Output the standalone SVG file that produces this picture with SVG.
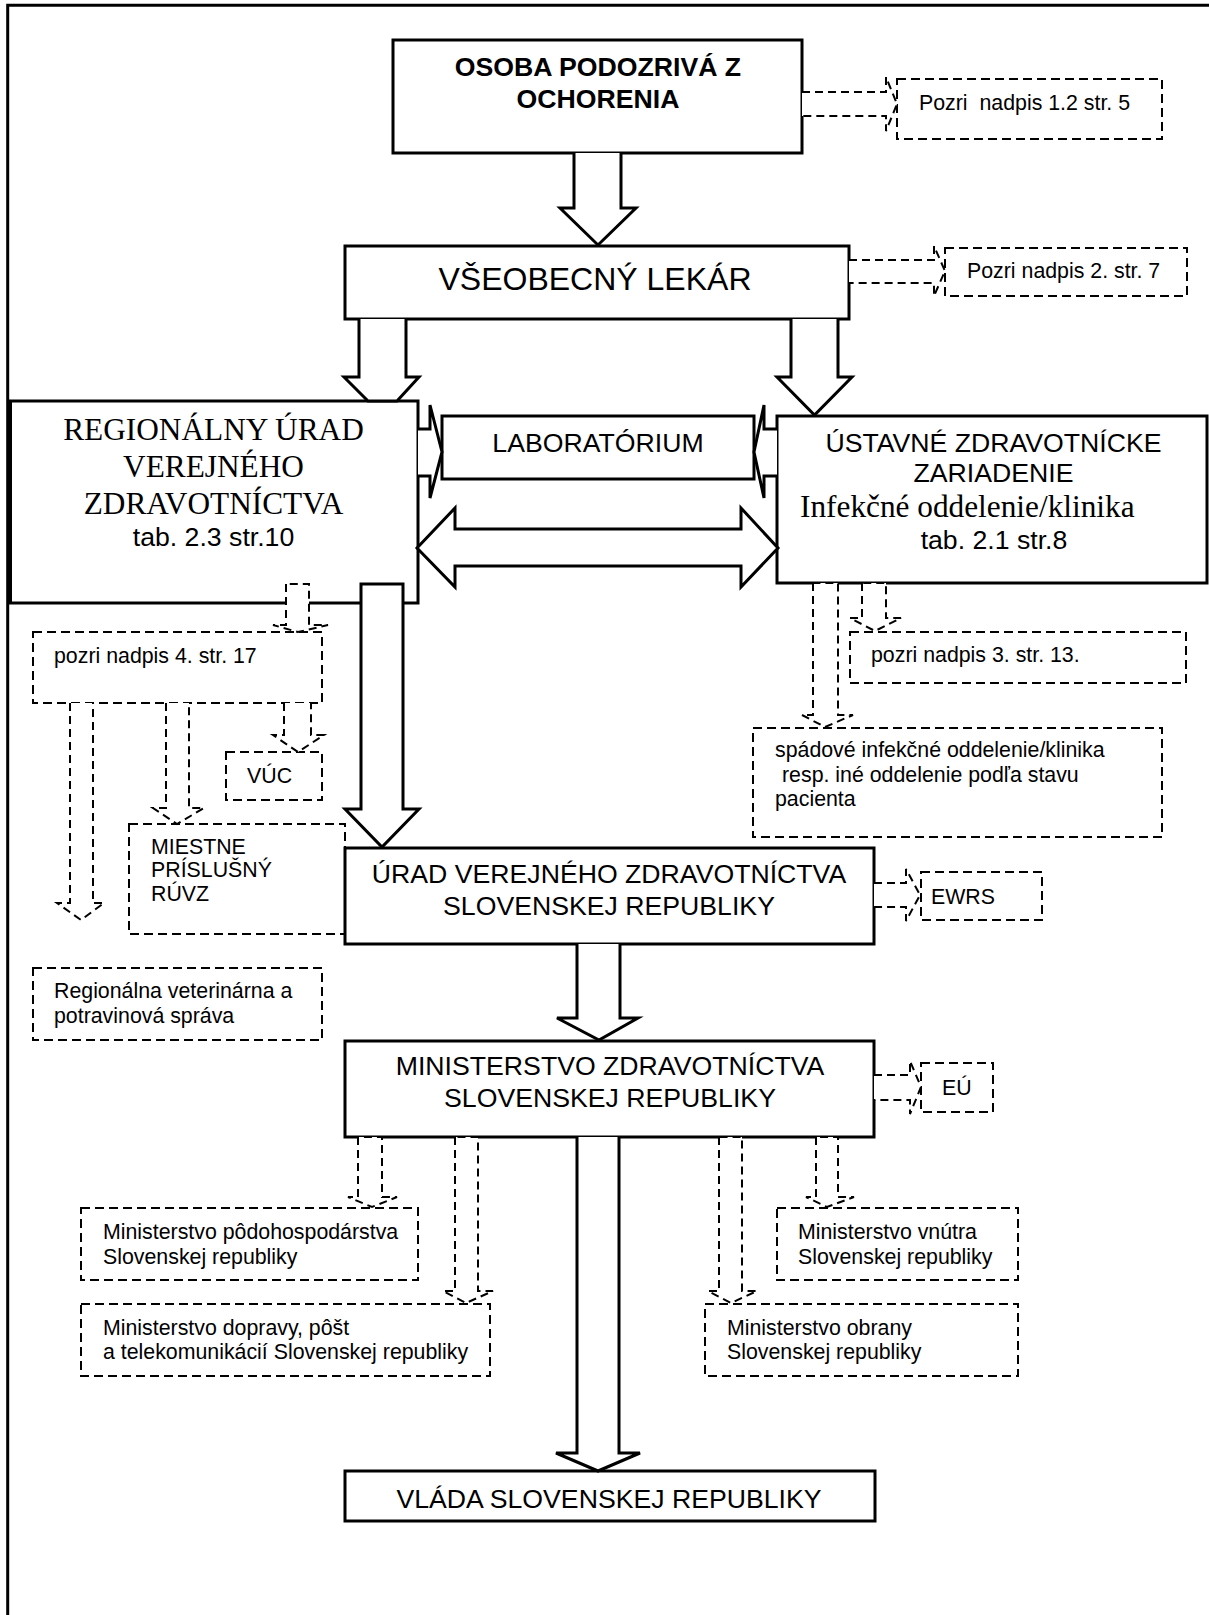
<svg xmlns="http://www.w3.org/2000/svg" width="1209" height="1615" viewBox="0 0 1209 1615">
<style>
.box{fill:#fff;stroke:#000;stroke-width:3}
.dbox{fill:#fff;stroke:#000;stroke-width:2;stroke-dasharray:9 5}
.arr{fill:#fff;stroke:#000;stroke-width:3;stroke-linejoin:miter}
.darr{fill:#fff;stroke:#000;stroke-width:2;stroke-dasharray:8 5}
text{font-family:"Liberation Sans",Arial,sans-serif;fill:#000}
.t{font-size:26.67px}
.tl{font-size:32px}
.tb{font-size:26.67px;font-weight:bold}
.ts{font-family:"Liberation Serif","Times New Roman",serif;font-size:31.3px}
.td{font-size:21.33px}
.m{text-anchor:middle}
</style>
<rect width="1209" height="1615" fill="#fff"/>
<path d="M7.7,1615 V5.3 H1209" fill="none" stroke="#000" stroke-width="3"/>

<g id="osoba">
<rect class="box" x="393" y="40" width="409" height="113"/>
<text class="tb m" x="598" y="76">OSOBA PODOZRIVÁ Z</text>
<text class="tb m" x="598" y="108">OCHORENIA</text>
</g>
<g id="pozri12">
<rect class="dbox" x="897" y="79" width="265" height="60"/>
<text class="td" x="919" y="110" xml:space="preserve">Pozri  nadpis 1.2 str. 5</text>
</g>
<g id="lekar">
<rect class="box" x="345" y="246" width="504" height="73"/>
<text class="tl m" x="595" y="290">VŠEOBECNÝ LEKÁR</text>
</g>
<g id="pozri2">
<rect class="dbox" x="945" y="248" width="242" height="48"/>
<text class="td" x="967" y="278">Pozri nadpis 2. str. 7</text>
</g>
<g id="ruvz">
<rect class="box" x="10.5" y="401" width="407.5" height="202"/>
<text class="ts m" x="213.5" y="440">REGIONÁLNY ÚRAD</text>
<text class="ts m" x="213.5" y="477">VEREJNÉHO</text>
<text class="ts m" x="213.5" y="514">ZDRAVOTNÍCTVA</text>
<text class="t m" x="213.5" y="546">tab. 2.3 str.10</text>
</g>
<g id="lab">
<rect class="box" x="442" y="416" width="312" height="63"/>
<text class="t m" x="598" y="452">LABORATÓRIUM</text>
</g>
<g id="uzz">
<rect class="box" x="777" y="416" width="430" height="167"/>
<text class="t m" x="993.5" y="452">ÚSTAVNÉ ZDRAVOTNÍCKE</text>
<text class="t m" x="993.5" y="482">ZARIADENIE</text>
<text class="ts" x="800" y="517">Infekčné oddelenie/klinika</text>
<text class="t m" x="994" y="549">tab. 2.1 str.8</text>
</g>
<g id="pozri3">
<rect class="dbox" x="850" y="632" width="336" height="51"/>
<text class="td" x="871" y="662">pozri nadpis 3. str. 13.</text>
</g>
<g id="spadove">
<rect class="dbox" x="753" y="728" width="409" height="109"/>
<text class="td" x="775" y="757">spádové infekčné oddelenie/klinika</text>
<text class="td" x="782" y="782">resp. iné oddelenie podľa stavu</text>
<text class="td" x="775" y="806">pacienta</text>
</g>
<g id="pozri4">
<rect class="dbox" x="33" y="632" width="289" height="71"/>
<text class="td" x="54" y="663">pozri nadpis 4. str. 17</text>
</g>
<g id="vuc">
<rect class="dbox" x="226" y="752" width="96" height="48"/>
<text class="td" x="247" y="783">VÚC</text>
</g>
<g id="miestne">
<rect class="dbox" x="129" y="824" width="216" height="110"/>
<text class="td" x="151" y="854">MIESTNE</text>
<text class="td" x="151" y="877">PRÍSLUŠNÝ</text>
<text class="td" x="151" y="901">RÚVZ</text>
</g>
<g id="rvps">
<rect class="dbox" x="33" y="968" width="289" height="72"/>
<text class="td" x="54" y="998">Regionálna veterinárna a</text>
<text class="td" x="54" y="1023">potravinová správa</text>
</g>
<g id="uvz">
<rect class="box" x="345" y="848" width="529" height="96"/>
<text class="t m" x="609" y="883">ÚRAD VEREJNÉHO ZDRAVOTNÍCTVA</text>
<text class="t m" x="609" y="915">SLOVENSKEJ REPUBLIKY</text>
</g>
<g id="ewrs">
<rect class="dbox" x="921" y="872" width="121" height="48"/>
<text class="td" x="931" y="904">EWRS</text>
</g>
<g id="mz">
<rect class="box" x="345" y="1041" width="529" height="96"/>
<text class="t m" x="610" y="1075">MINISTERSTVO ZDRAVOTNÍCTVA</text>
<text class="t m" x="610" y="1107">SLOVENSKEJ REPUBLIKY</text>
</g>
<g id="eu">
<rect class="dbox" x="921" y="1063" width="72" height="49"/>
<text class="td" x="942" y="1095">EÚ</text>
</g>
<g id="mpsr">
<rect class="dbox" x="81" y="1208" width="337" height="72"/>
<text class="td" x="103" y="1239">Ministerstvo pôdohospodárstva</text>
<text class="td" x="103" y="1264">Slovenskej republiky</text>
</g>
<g id="mdpt">
<rect class="dbox" x="81" y="1304" width="409" height="72"/>
<text class="td" x="103" y="1335">Ministerstvo dopravy, pôšt</text>
<text class="td" x="103" y="1359">a telekomunikácií Slovenskej republiky</text>
</g>
<g id="mv">
<rect class="dbox" x="777" y="1208" width="241" height="72"/>
<text class="td" x="798" y="1239">Ministerstvo vnútra</text>
<text class="td" x="798" y="1264">Slovenskej republiky</text>
</g>
<g id="mo">
<rect class="dbox" x="705" y="1304" width="313" height="72"/>
<text class="td" x="727" y="1335">Ministerstvo obrany</text>
<text class="td" x="727" y="1359">Slovenskej republiky</text>
</g>
<g id="vlada">
<rect class="box" x="345" y="1471" width="530" height="50"/>
<text class="t m" x="609" y="1508">VLÁDA SLOVENSKEJ REPUBLIKY</text>
</g>

<g id="connectors">
<path class="arr" d="M574,153 V208 H560 L598,245 L636,208 H621 V153"/>
<path class="arr" d="M359,319 V377 H344 L368,401 H397 L419,377 H406 V319"/>
<path class="arr" d="M791,319 V377 H777 L814.5,415 L852,377 H838 V319"/>
<path class="arr" d="M418,429 H430 V405 L442,452 L430,498 V476 H418"/>
<path class="arr" d="M777,429 H764 V405 L754,452 L764,498 V476 H777"/>
<path class="arr" d="M417,548 L455,508 V529 H741 V508 L778,548 L741,587 V566 H455 V587 Z"/>
<path class="arr" d="M361,584 H403 V809 H419 L382,847 L345,809 H361 Z"/>
<path class="arr" d="M577,944 V1018 H557 L599,1040 L638,1018 H620 V944"/>
<path class="arr" d="M577,1137 V1453 H556 L598,1471 L640,1453 H619 V1137"/>

<path class="darr" d="M802,92 H886 V77 L897,104 L886,131 V116 H802"/>
<path class="darr" d="M849,260 H934 V246 L945,271 L934,296 V283 H849"/>
<path class="darr" d="M813,583 V715 H802 L825,727 L853,715 H838 V583 Z"/>
<path class="darr" d="M862,583 V618 H850 L875,631 L901,618 H886 V583 Z"/>
<path class="darr" d="M286,584 V625 H273 L298,632 L328,625 H309 V584 Z"/>
<path class="darr" d="M70,703 V903 H57 L81,920 L104,903 H93 V703"/>
<path class="darr" d="M166,703 V808 H153 L177,824 L204,808 H189 V703"/>
<path class="darr" d="M284,703 V735 H273 L298,752 L324,735 H311 V703"/>
<path class="darr" d="M874,883 H906 V869 L920,895 L906,921 V907 H874"/>
<path class="darr" d="M874,1075 H910 V1061 L921,1087 L910,1114 V1100 H874"/>
<path class="darr" d="M358,1137 V1197 H348 L372,1207 L397,1197 H382 V1137 Z"/>
<path class="darr" d="M455,1137 V1291 H443 L466,1303 L493,1291 H478 V1137 Z"/>
<path class="darr" d="M719,1137 V1291 H708 L731,1303 L757,1291 H742 V1137 Z"/>
<path class="darr" d="M816,1137 V1197 H806 L827,1207 L854,1197 H838 V1137 Z"/>
</g>
</svg>
